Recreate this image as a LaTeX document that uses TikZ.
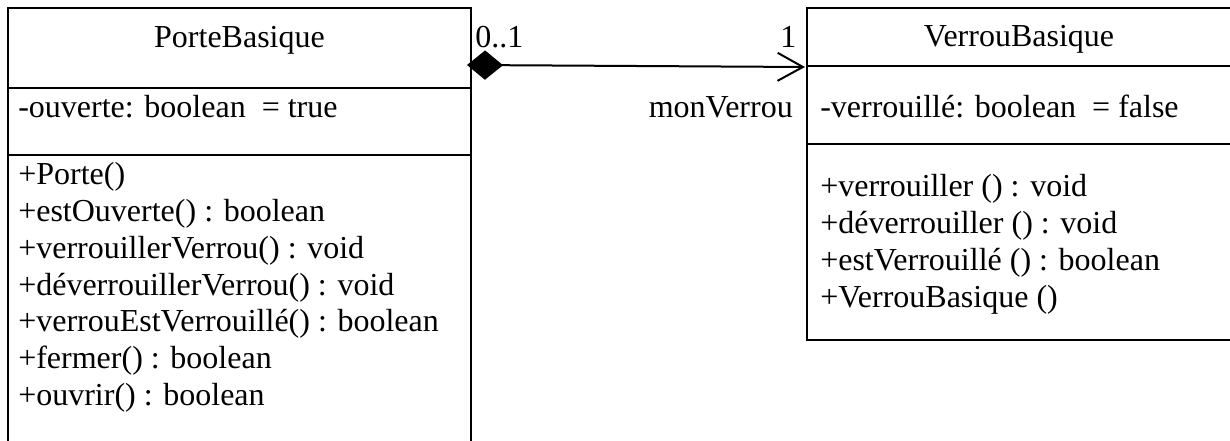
\documentclass[tikz,border=0pt]{standalone}
\usepackage{fontspec}
\setmainfont{Liberation Serif}
\usetikzlibrary{arrows.meta}
\begin{document}
\begin{tikzpicture}[x=0.75pt,y=-0.75pt,
  classbox/.style={draw, line width=1.5pt, outer sep=0pt, inner sep=0pt, anchor=north west},
  rule/.style={line width=1.5pt},
  txt/.style={inner sep=0pt, font=\fontsize{24}{27.5}\selectfont},
  item/.style={txt, anchor=base west},
  title/.style={txt, anchor=base},
  assoc/.style={line width=1.5pt,
    {Diamond[length=27pt,width=22pt]}-{Straight Barb[length=19pt,width=21pt,line width=1.5pt]}}]
\useasboundingbox (0,0) rectangle (1230,441);
\clip (0,0) rectangle (1230,441);

% class PorteBasique (runs past the bottom edge)
\node[classbox, minimum width=347.25pt, minimum height=360pt] (porte) at (8,8) {};
\draw[rule] (porte.west |- 0,88) -- (porte.east |- 0,88);
\draw[rule] (porte.west |- 0,155) -- (porte.east |- 0,155);
\node[title] (porteName) at (239.5,48) {PorteBasique};
\node[item] (porteAttr) at (18,118) {-ouverte: boolean\ \ = true};
\foreach \t [count=\i from 0] in {+Porte(), +estOuverte() : boolean, +verrouillerVerrou() : void,
    +déverrouillerVerrou() : void, +verrouEstVerrouillé() : boolean, +fermer() : boolean,
    +ouvrir() : boolean}
  \node[item] (porteOp\i) at (18,185+36.67*\i) {\t};

% class VerrouBasique (runs past the right edge)
\node[classbox, minimum width=318pt, minimum height=249pt] (verrou) at (807,8) {};
\draw[rule] (verrou.west |- 0,66) -- (verrou.east |- 0,66);
\draw[rule] (verrou.west |- 0,144) -- (verrou.east |- 0,144);
\node[title] (verrouName) at (1019,47) {VerrouBasique};
\node[item] (verrouAttr) at (820,118) {-verrouillé: boolean\ \ = false};
\foreach \t [count=\i from 0] in {+verrouiller () : void, +déverrouiller () : void,
    +estVerrouillé () : boolean, +VerrouBasique ()}
  \node[item] (verrouOp\i) at (820,197+36.67*\i) {\t};

% composition PorteBasique -> VerrouBasique
\coordinate (src) at (467,65);
\coordinate (dst) at (805,67);
\draw[assoc] (src) -- (dst);
\node[item] (multSrc) at (475,48) {0..1};
\node[item] (multDst) at (780,48) {1};
\node[txt, anchor=base east] (role) at (793,118) {monVerrou};
\end{tikzpicture}
\end{document}
